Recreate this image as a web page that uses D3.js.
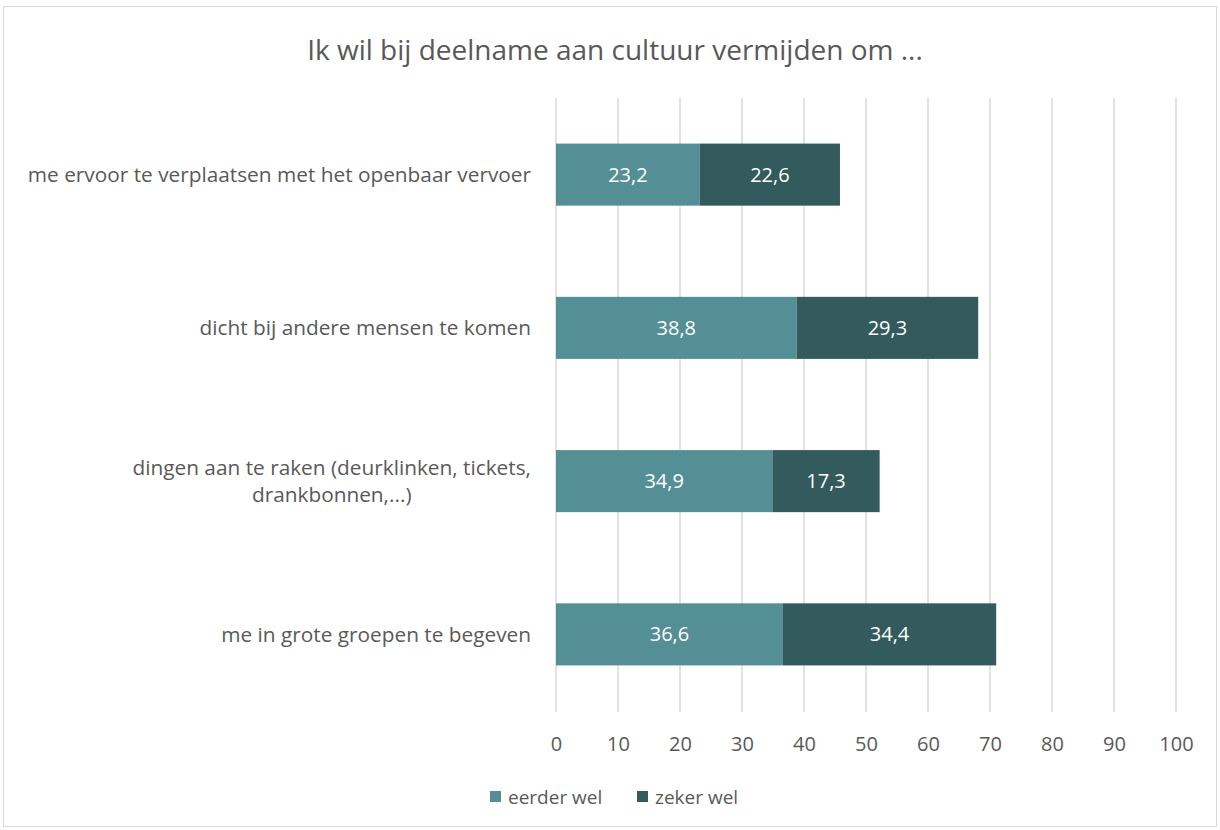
<!DOCTYPE html>
<html>
<head>
<meta charset="utf-8">
<script src="https://cdn.jsdelivr.net/npm/d3@7"></script>
<style>
  body { margin: 0; background: #fff; }
  svg { display: block; }
  text { font-family: "Open Sans", "Noto Sans", sans-serif; fill: #595959; }
</style>
</head>
<body>
<svg id="chart" width="1220" height="830"></svg>
<script>
// Gegevens uit de grafiek
const categories = [
  "me ervoor te verplaatsen met het openbaar vervoer",
  "dicht bij andere mensen te komen",
  "dingen aan te raken (deurklinken, tickets,|drankbonnen,...)",
  "me in grote groepen te begeven"
];
const eerderWel = [23.2, 38.8, 34.9, 36.6];
const zekerWel = [22.6, 29.3, 17.3, 34.4];
const seriesNames = ["eerder wel", "zeker wel"];
const xTicks = [0, 10, 20, 30, 40, 50, 60, 70, 80, 90, 100];

const colors = ["#548F96", "#335A5D"];

function drawChart() {
  const svg = d3.select("#chart");

  // kader rond de grafiek
  svg.append("rect")
    .attr("x", 3.5).attr("y", 6.5)
    .attr("width", 1213).attr("height", 820)
    .attr("fill", "#fff").attr("stroke", "#d9d9d9");

  // titel
  svg.append("text")
    .attr("x", 615).attr("y", 60)
    .attr("text-anchor", "middle")
    .style("font-size", "28px")
    .text("Ik wil bij deelname aan cultuur vermijden om ...");

  const scaleX = d3.scaleLinear().domain([0, 100]).range([556, 1176]);
  const scaleY = d3.scaleBand()
    .domain(categories)
    .range([98, 711])
    .paddingInner(0.595)
    .paddingOuter(0.2975);

  // rasterlijnen
  svg.append("g")
    .selectAll("line")
    .data(xTicks)
    .join("line")
    .attr("x1", d => scaleX(d)).attr("x2", d => scaleX(d))
    .attr("y1", 98).attr("y2", 712)
    .attr("stroke", "#d9d9d9")
    .attr("stroke-width", 1.5);

  // as-labels
  const axis = svg.append("g")
    .attr("transform", "translate(0,712)")
    .call(d3.axisBottom(scaleX).tickValues(xTicks).tickSize(0).tickPadding(25));
  axis.select(".domain").remove();
  axis.selectAll("text")
    .style("font-size", "20px")
    .style("font-family", "'Open Sans', sans-serif")
    .attr("fill", "#595959");

  // gestapelde balken
  const stacked = categories.map((c, i) => ({
    cat: c,
    parts: [
      {x0: 0, x1: eerderWel[i], v: eerderWel[i], s: 0},
      {x0: eerderWel[i], x1: eerderWel[i] + zekerWel[i], v: zekerWel[i], s: 1}
    ]
  }));

  const rows = svg.append("g").selectAll("g")
    .data(stacked)
    .join("g");

  rows.selectAll("rect")
    .data(d => d.parts.map(p => ({...p, cat: d.cat})))
    .join("rect")
    .attr("x", d => scaleX(d.x0))
    .attr("y", d => scaleY(d.cat))
    .attr("width", d => scaleX(d.x1) - scaleX(d.x0))
    .attr("height", scaleY.bandwidth())
    .attr("fill", d => colors[d.s]);

  rows.selectAll("text.val")
    .data(d => d.parts.map(p => ({...p, cat: d.cat})))
    .join("text")
    .attr("class", "val")
    .attr("x", d => (scaleX(d.x0) + scaleX(d.x1)) / 2)
    .attr("y", d => scaleY(d.cat) + scaleY.bandwidth() / 2)
    .attr("dy", "0.35em")
    .attr("text-anchor", "middle")
    .style("font-size", "20px")
    .style("fill", "#fff")
    .text(d => d.v.toFixed(1).replace(".", ","));

  // categorielabels (rechts uitgelijnd, meerdere regels gecentreerd)
  categories.forEach(c => {
    const lines = c.split("|");
    const cy = scaleY(c) + scaleY.bandwidth() / 2;
    const lh = 27;
    const g = svg.append("g");
    const texts = lines.map((ln, j) => g.append("text")
      .attr("y", cy + (j - (lines.length - 1) / 2) * lh)
      .attr("dy", "0.35em")
      .attr("text-anchor", "middle")
      .style("font-size", "20.8px")
      .text(ln));
    const maxW = d3.max(texts, t => t.node().getComputedTextLength());
    texts.forEach(t => t.attr("x", 531 - maxW / 2));
  });

  // legenda
  const legend = svg.append("g");
  const legendX = [490, 637];
  seriesNames.forEach((name, i) => {
    legend.append("rect")
      .attr("x", legendX[i]).attr("y", 791)
      .attr("width", 11).attr("height", 11)
      .attr("fill", colors[i]);
    legend.append("text")
      .attr("x", legendX[i] + 18).attr("y", 797)
      .attr("dy", "0.35em")
      .style("font-size", "19px")
      .text(name);
  });
}

drawChart();
</script>
</body>
</html>
